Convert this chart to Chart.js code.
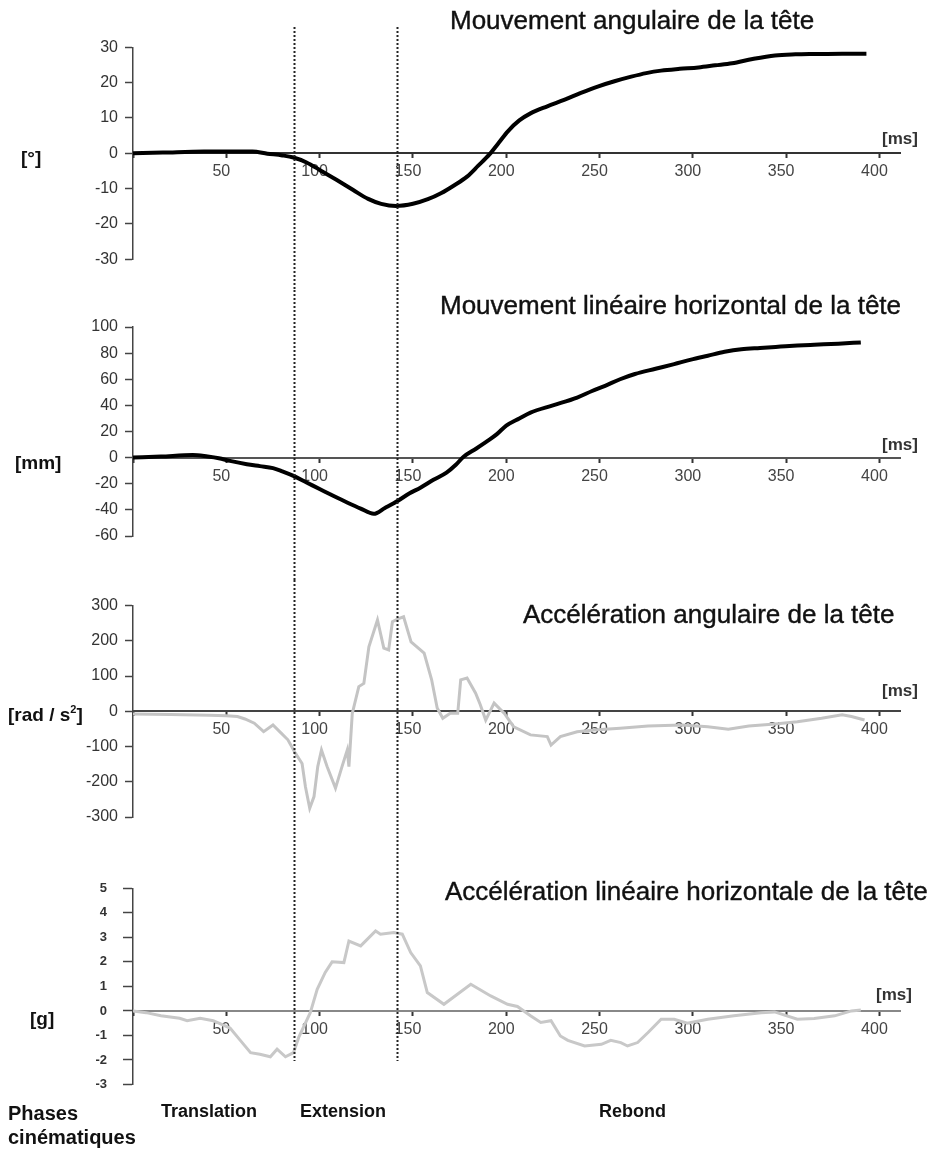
<!DOCTYPE html>
<html>
<head>
<meta charset="utf-8">
<script src="https://cdn.jsdelivr.net/npm/chart.js@4.4.1/dist/chart.umd.min.js"></script>
<style>
body { margin: 0; background: #fff; width: 942px; height: 1150px; position: relative; overflow: hidden; font-family: "Liberation Sans", Arial, sans-serif; }
canvas { position: absolute; left: 0; }
.t { position: absolute; white-space: nowrap; line-height: 1; transform: translateY(-50%); color: #111; }
.title { font-size: 26px; -webkit-text-stroke: 0.4px #111; }
.unit { font-size: 19px; font-weight: bold; }
.ms { font-size: 17px; font-weight: bold; color: #333; }
.phase { font-size: 18px; font-weight: bold; }
.big { font-size: 20px; font-weight: bold; }
</style>
</head>
<body>
<canvas id="c1" width="942" height="290" style="top:0px"></canvas>
<canvas id="c2" width="942" height="290" style="top:290px"></canvas>
<canvas id="c3" width="942" height="280" style="top:580px"></canvas>
<canvas id="c4" width="942" height="290" style="top:860px"></canvas>

<div class="t title" style="left:450px;top:20px">Mouvement angulaire de la tête</div>
<div class="t title" style="left:440px;top:305px">Mouvement linéaire horizontal de la tête</div>
<div class="t title" style="left:523px;top:614px">Accélération angulaire de la tête</div>
<div class="t title" style="left:445px;top:891px">Accélération linéaire horizontale de la tête</div>

<div class="t unit" style="left:21px;top:157px">[°]</div>
<div class="t unit" style="left:15px;top:462px">[mm]</div>
<div class="t unit" style="left:8px;top:714px">[rad / s<sup style="font-size:11px;vertical-align:8px">2</sup>]</div>
<div class="t unit" style="left:30px;top:1018px">[g]</div>

<div class="t ms" style="left:882px;top:138px">[ms]</div>
<div class="t ms" style="left:882px;top:444px">[ms]</div>
<div class="t ms" style="left:882px;top:690px">[ms]</div>
<div class="t ms" style="left:876px;top:994px">[ms]</div>

<div class="t big" style="left:8px;top:1113px">Phases</div>
<div class="t big" style="left:8px;top:1137px">cinématiques</div>
<div class="t phase" style="left:161px;top:1111px">Translation</div>
<div class="t phase" style="left:300px;top:1111px">Extension</div>
<div class="t phase" style="left:599px;top:1111px">Rebond</div>

<script>
// phase limits (ms)
const phaseLines = [86.5, 141.5];

// Mouvement angulaire de la tête [°]
const tAng = [0, 16, 38, 64, 72, 80, 86, 93, 100, 109, 118, 126, 133, 141, 150, 158, 165, 172, 179, 185, 191, 196, 201, 207, 213, 222, 231, 240, 249, 258, 267, 275, 283, 293, 303, 312, 321, 332, 344, 355, 365, 380, 393];
const vAng = [0, 0.2, 0.5, 0.5, -0.1, -0.6, -1.2, -2.6, -4.7, -7.5, -10.4, -12.9, -14.3, -14.9, -14.3, -13, -11.3, -9.1, -6.6, -3.5, -0.3, 3, 6.3, 9.3, 11.3, 13.3, 15.1, 17.1, 18.9, 20.4, 21.7, 22.7, 23.4, 23.9, 24.3, 24.9, 25.5, 26.7, 27.7, 28, 28.1, 28.2, 28.2];

// Mouvement linéaire horizontal de la tête [mm]
const tLin = [0, 15, 32, 40, 46, 52, 61, 68, 75, 80, 86, 93, 100, 107, 115, 122, 129, 135, 142, 148, 154, 161, 168, 173, 177, 184, 190, 195, 200, 207, 213, 225, 238, 246, 253, 261, 269, 280, 290, 299, 308, 317, 326, 336, 347, 356, 365, 378, 390];
const vLin = [0, 0.8, 2, 0.8, -0.5, -2.5, -5, -6.5, -8, -10.5, -14, -19, -24, -29, -34.5, -39, -43, -38.5, -33, -27.5, -23, -17, -11.5, -5.5, 0.5, 7, 12.8, 18, 24.5, 30, 34.5, 40, 46, 51, 55, 60, 64, 68, 71.6, 75, 78, 81, 83, 84, 85, 85.8, 86.4, 87.2, 88.2];

// Accélération angulaire de la tête [rad/s²]
const tAccAng = [0, 20, 41, 50, 56, 60, 65, 70, 75, 79, 83, 87, 90.6, 92.4, 94.7, 97, 99, 101, 104, 108.5, 112, 114.8, 115.7, 117.5, 121, 123.7, 126.4, 131, 134.4, 137, 139, 142, 145, 149, 154, 156, 160, 163, 166, 170, 174, 175.6, 179, 183.6, 186, 189, 193.5, 199, 204, 213, 222, 224, 229, 238, 247, 261, 276, 294, 308, 319, 330, 344, 356, 369, 380, 385, 392];
const vAccAng = [-8, -9, -11, -13, -15, -22, -34, -58, -39, -60, -81, -119, -148, -214, -275, -242, -157, -110, -157, -218, -157, -110, -157, -6, 70, 79, 183, 259, 179, 174, 254, 262, 268, 197, 174, 165, 90, 9, -20, -6, -6, 89, 94, 51, 20, -25, 23, -6, -44, -67, -72, -96, -72, -58, -53, -48, -42, -39, -44, -51, -42, -36, -30, -20, -10, -15, -25];

// Accélération linéaire horizontale de la tête [g]
const tAccLin = [0, 7, 15, 25, 29, 36, 43, 52, 57.5, 63, 68, 73.6, 77.2, 81.7, 86, 88.8, 95, 98.7, 103, 106.7, 113, 115.7, 122, 130, 132.6, 139.8, 144.3, 148.8, 154, 157.7, 166.6, 181, 191.7, 200.7, 206, 213, 218.5, 224, 229, 233, 242, 251, 256, 261.4, 265, 270.4, 276, 283, 290, 297, 308, 322, 336.6, 343.8, 356, 365, 376, 385, 390];
const vAccLin = [0, -0.07, -0.2, -0.3, -0.4, -0.3, -0.4, -0.7, -1.2, -1.7, -1.77, -1.87, -1.56, -1.87, -1.7, -1.08, -0.07, 0.88, 1.57, 2.0, 1.97, 2.85, 2.65, 3.26, 3.13, 3.2, 3.13, 2.38, 1.84, 0.75, 0.27, 1.09, 0.61, 0.27, 0.18, -0.2, -0.47, -0.4, -1.02, -1.2, -1.43, -1.36, -1.2, -1.29, -1.43, -1.29, -0.88, -0.34, -0.34, -0.5, -0.34, -0.2, -0.07, -0.04, -0.34, -0.31, -0.2, 0, 0.04];

function pts(ts, vs) {
    return ts.map((t, i) => ({ x: t, y: vs[i] }));
}

// dotted phase separators, drawn through the x scale
const phasePlugin = {
    id: 'phases',
    afterDatasetsDraw(chart, args, opts) {
        const c = chart.ctx;
        const xs = chart.scales.x;
        c.save();
        c.strokeStyle = '#222';
        c.lineWidth = 2;
        c.setLineDash([2, 2]);
        for (const p of phaseLines) {
            const px = Math.round(xs.getPixelForValue(p)) + 0.5;
            c.beginPath();
            c.moveTo(px, opts.top);
            c.lineTo(px, opts.bottom);
            c.stroke();
        }
        c.restore();
    }
};

function makeChart(id, o) {
    const cv = document.getElementById(id);
    return new Chart(cv, {
        type: 'line',
        data: {
            datasets: [{
                data: pts(o.t, o.v),
                borderColor: o.color,
                borderWidth: o.lw,
                pointRadius: 0,
                tension: o.smooth ? 0.4 : 0,
                cubicInterpolationMode: o.smooth ? 'monotone' : 'default',
                fill: false
            }]
        },
        options: {
            responsive: false,
            animation: false,
            events: [],
            layout: { padding: { left: 0, right: 42, top: o.top, bottom: cv.height - o.bottom } },
            plugins: {
                legend: { display: false },
                tooltip: { enabled: false },
                title: { display: false },
                phases: { top: o.lineTop, bottom: o.lineBottom }
            },
            scales: {
                x: {
                    type: 'linear',
                    position: { y: 0 },
                    min: 0,
                    max: 411,
                    afterFit(s) { s.height = 0; },
                    border: { color: o.xAxisColor, width: 2 },
                    grid: { drawOnChartArea: false, tickLength: 4, tickColor: '#333', tickWidth: 2 },
                    ticks: {
                        stepSize: 50,
                        includeBounds: false,
                        padding: 5,
                        labelOffset: -5,
                        maxRotation: 0,
                        color: '#444',
                        font: { family: 'Liberation Sans', size: 16 },
                        callback: v => v === 0 ? '' : v
                    }
                },
                y: {
                    type: 'linear',
                    position: 'left',
                    min: o.min,
                    max: o.max,
                    afterFit(s) { s.width = 133; },
                    border: { color: '#444', width: 1.5 },
                    grid: { drawOnChartArea: false, tickLength: o.tl, tickColor: '#444', tickWidth: 1.5 },
                    ticks: {
                        stepSize: o.step,
                        padding: o.pad,
                        color: '#333',
                        font: { family: 'Liberation Sans', size: o.yFont, weight: o.yBold ? 'bold' : 'normal' }
                    }
                }
            }
        },
        plugins: [phasePlugin]
    });
}

makeChart('c1', { t: tAng, v: vAng, color: '#000', lw: 4, smooth: true, min: -30, max: 30, step: 10,
    top: 47.3, bottom: 259.3, lineTop: 27, lineBottom: 290, xAxisColor: '#333', tl: 8, pad: 7, yFont: 16 });
makeChart('c2', { t: tLin, v: vLin, color: '#000', lw: 4, smooth: true, min: -60, max: 100, step: 20,
    top: 37, bottom: 246, lineTop: 0, lineBottom: 290, xAxisColor: '#555', tl: 8, pad: 7, yFont: 16 });
makeChart('c3', { t: tAccAng, v: vAccAng, color: '#c4c4c4', lw: 3, smooth: false, min: -300, max: 300, step: 100,
    top: 25.5, bottom: 237, lineTop: 0, lineBottom: 280, xAxisColor: '#444', tl: 8, pad: 7, yFont: 16 });
makeChart('c4', { t: tAccLin, v: vAccLin, color: '#c8c8c8', lw: 3, smooth: false, min: -3, max: 5, step: 1,
    top: 28.3, bottom: 224.5, lineTop: 0, lineBottom: 201, xAxisColor: '#888', tl: 10, pad: 16, yFont: 13, yBold: true });
</script>
</body>
</html>
